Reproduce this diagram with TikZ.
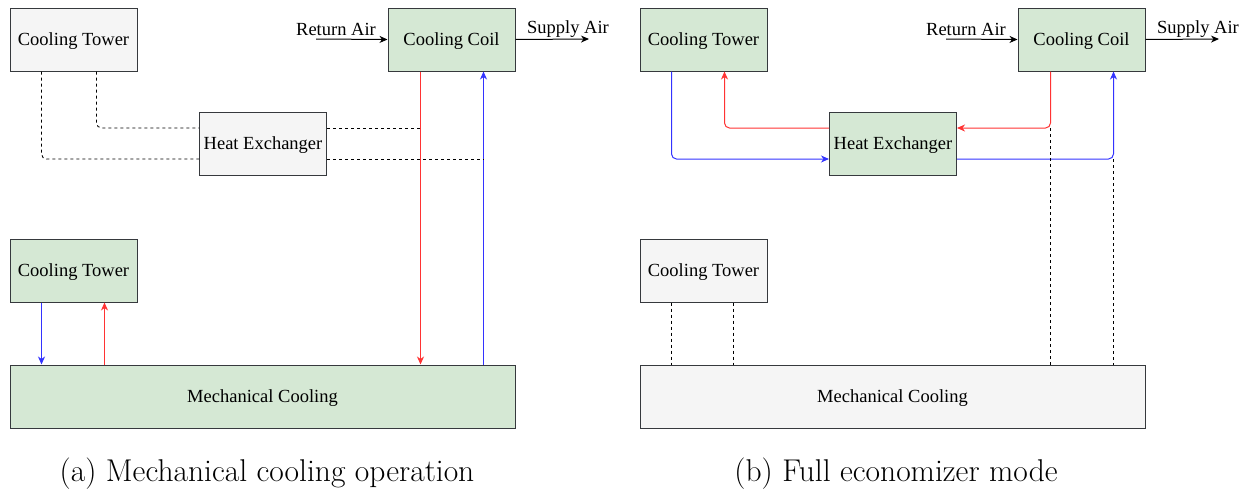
\documentclass[tikz,border=0pt]{standalone}
\usepackage{fontspec}
\newfontfamily\boxfont{Liberation Serif}
\usetikzlibrary{arrows.meta}
\definecolor{onfill}{HTML}{D5E8D4}
\definecolor{offfill}{HTML}{F5F5F5}
\definecolor{edge}{HTML}{36393D}
\definecolor{hot}{HTML}{FF3333}
\definecolor{cold}{HTML}{3333FF}
\begin{document}
\begin{tikzpicture}[x=1pt,y=-1pt,
  unit/.style={draw=edge, line width=1pt, minimum width=127pt, minimum height=63pt,
    inner sep=0pt, text depth=0pt, font=\boxfont\fontsize{18.5}{20}\selectfont},
  on/.style={unit, fill=onfill},
  off/.style={unit, fill=offfill},
  wide/.style={minimum width=505pt},
  tip/.style={-{Stealth[length=8pt,width=7pt,inset=2.5pt]}},
  hotline/.style={draw=hot, line width=1pt, tip},
  coldline/.style={draw=cold, line width=1pt, tip},
  airline/.style={draw=black, line width=1pt, tip},
  idle/.style={draw=black, line width=0.9pt, dash pattern=on 3pt off 3pt},
  airlbl/.style={inner sep=0pt, font=\boxfont\fontsize{18.5}{20}\selectfont},
  caption/.style={anchor=base, inner sep=0pt, font=\fontsize{31.5}{38}\selectfont},
  elbow/.style={rounded corners=5pt}
]
\useasboundingbox (0,0) rectangle (1253,493);

% ---------------- (a) mechanical cooling ----------------
\node[off] (ctA)   at (73.5,39.5)  {Cooling Tower};
\node[off] (hxA)   at (263,143.5)  {Heat Exchanger};
\node[on]  (coilA) at (451.5,39.5) {Cooling Coil};
\node[on]  (ct2A)  at (73.5,270.5) {Cooling Tower};
\node[on,wide] (mechA) at (262.5,396.5) {Mechanical Cooling};

\coordinate (raA) at (316,39);
\coordinate (saA) at (589,39);
\draw[airline] (raA) -- (coilA.west);
\draw[airline] (coilA.east) -- (saA);
\node[airlbl] (raAlbl) at (336,29.5) {Return Air};
\node[airlbl] (saAlbl) at (568,29.5) {Supply Air};

\coordinate (rA) at ([xshift=33pt]coilA.south west);
\coordinate (bA) at ([xshift=-32pt]coilA.south east);
\coordinate (hxAhiW) at ([yshift=15.5pt]hxA.west);
\coordinate (hxAloW) at ([yshift=-15.5pt]hxA.west);
\coordinate (hxAhiE) at ([yshift=15.5pt]hxA.east);
\coordinate (hxAloE) at ([yshift=-15.5pt]hxA.east);
\coordinate (ctAl) at ([xshift=32pt]ctA.south west);
\coordinate (ctAr) at ([xshift=87pt]ctA.south west);

\draw[hotline] (rA) -- (rA |- mechA.north);
\draw[coldline] (bA |- mechA.north) -- (bA);

\draw[idle,elbow] (ctAl) |- (hxAloW);
\draw[idle,elbow] (ctAr) |- (hxAhiW);
\draw[idle] (hxAhiE) -- (hxAhiE -| rA);
\draw[idle] (hxAloE) -- (hxAloE -| bA);

\coordinate (ct2Al) at ([xshift=32pt]ct2A.south west);
\coordinate (ct2Ar) at ([xshift=95pt]ct2A.south west);
\draw[coldline] (ct2Al) -- (ct2Al |- mechA.north);
\draw[hotline] (ct2Ar |- mechA.north) -- (ct2Ar);

\node[caption] (capA) at (267,481) {(a) Mechanical cooling operation};

% ---------------- (b) full economizer ----------------
\node[on]  (ctB)   at (703.5,39.5)  {Cooling Tower};
\node[on]  (hxB)   at (893,143.5)   {Heat Exchanger};
\node[on]  (coilB) at (1081.5,39.5) {Cooling Coil};
\node[off] (ct2B)  at (703.5,270.5) {Cooling Tower};
\node[off,wide] (mechB) at (892.5,396.5) {Mechanical Cooling};

\coordinate (raB) at (946,39);
\coordinate (saB) at (1219,39);
\draw[airline] (raB) -- (coilB.west);
\draw[airline] (coilB.east) -- (saB);
\node[airlbl] (raBlbl) at (966,29.5) {Return Air};
\node[airlbl] (saBlbl) at (1198,29.5) {Supply Air};

\coordinate (rB) at ([xshift=33pt]coilB.south west);
\coordinate (bB) at ([xshift=-32pt]coilB.south east);
\coordinate (hxBhiW) at ([yshift=15.5pt]hxB.west);
\coordinate (hxBloW) at ([yshift=-15.5pt]hxB.west);
\coordinate (hxBhiE) at ([yshift=15.5pt]hxB.east);
\coordinate (hxBloE) at ([yshift=-15.5pt]hxB.east);
\coordinate (ctBl) at ([xshift=32pt]ctB.south west);
\coordinate (ctBr) at ([xshift=85pt]ctB.south west);

\draw[coldline,elbow] (ctBl) |- (hxBloW);
\draw[coldline,elbow] (hxBloE) -| (bB);
\draw[hotline,elbow] (rB) |- (hxBhiE);
\draw[hotline,elbow] (hxBhiW) -| (ctBr);

\draw[idle] (hxBhiE -| rB) -- (rB |- mechB.north);
\draw[idle] (hxBloE -| bB) -- (bB |- mechB.north);

\coordinate (ct2Bl) at ([xshift=32pt]ct2B.south west);
\coordinate (ct2Br) at ([xshift=94pt]ct2B.south west);
\draw[idle] (ct2Bl) -- (ct2Bl |- mechB.north);
\draw[idle] (ct2Br) -- (ct2Br |- mechB.north);

\node[caption] (capB) at (896,481) {(b) Full economizer mode};
\end{tikzpicture}
\end{document}
